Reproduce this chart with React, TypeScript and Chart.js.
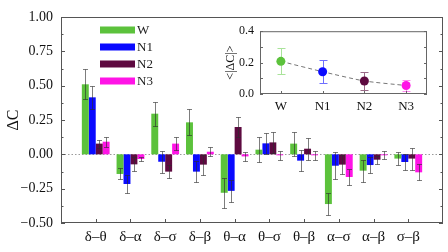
import React, { useEffect, useRef } from 'react';
import { Chart, registerables } from 'chart.js';
Chart.register(...registerables);

const pairs = ['δ–θ', 'δ–α', 'δ–σ', 'δ–β', 'θ–α', 'θ–σ', 'θ–β', 'α–σ', 'α–β', 'σ–β'];
const groups = ['W', 'N1', 'N2', 'N3'];
const colors = ['#5cc23c', '#0a0aff', '#5e0a40', '#ff14e6'];
const insetErrColors = ['#a9e39a', '#6f6fff', '#9a6a88', '#ff88f0'];
const wVals = [0.51, -0.143, 0.296, 0.233, -0.28, 0.034, 0.078, -0.362, -0.119, -0.031];
const wErr = [0.11, 0.04, 0.088, 0.095, 0.11, 0.09, 0.088, 0.08, 0.08, 0.05];
const n1Vals = [0.415, -0.216, -0.054, -0.126, -0.266, 0.08, -0.046, -0.083, -0.078, -0.056];
const n1Err = [0.085, 0.062, 0.08, 0.075, 0.08, 0.075, 0.075, 0.1, 0.055, 0.06];
const n2Vals = [0.078, -0.073, -0.126, -0.075, 0.199, 0.087, 0.041, -0.075, -0.039, -0.031];
const n2Err = [0.03, 0.05, 0.045, 0.073, 0.073, 0.075, 0.08, 0.07, 0.028, 0.08];
const n3Vals = [0.092, -0.034, 0.078, 0.019, -0.015, -0.007, -0.007, -0.165, -0.007, -0.131];
const n3Err = [0.035, 0.018, 0.045, 0.034, 0.035, 0.033, 0.033, 0.055, 0.028, 0.058];
const meanVals = [0.208, 0.142, 0.083, 0.054];
const meanErr = [0.082, 0.072, 0.058, 0.038];

const FONT = 'Liberation Serif';

const fmtMain = (v: number) => {
  const s = Math.abs(v).toFixed(2);
  return v < -1e-9 ? '−' + s : s;
};

const mainDecor = {
  id: 'mainDecor',
  beforeDatasetsDraw(chart: any) {
    const { ctx, chartArea: a, scales } = chart;
    const y0 = Math.round(scales.y.getPixelForValue(0)) + 0.5;
    ctx.save();
    ctx.strokeStyle = '#9a9a9a';
    ctx.lineWidth = 1;
    ctx.setLineDash([1.5, 2]);
    ctx.beginPath();
    ctx.moveTo(a.left, y0);
    ctx.lineTo(a.right, y0);
    ctx.stroke();
    ctx.restore();
  },
  afterDatasetsDraw(chart: any) {
    const { ctx, chartArea: a, scales } = chart;
    const y = scales.y;
    const x = scales.x;
    ctx.save();
    ctx.strokeStyle = 'rgba(45,45,45,0.62)';
    ctx.lineWidth = 1;
    chart.data.datasets.forEach((ds: any, i: number) => {
      const meta = chart.getDatasetMeta(i);
      meta.data.forEach((bar: any, j: number) => {
        const v = ds.data[j];
        const e = ds.err[j];
        if (v == null || e == null) return;
        const px = Math.round(bar.x) + 0.5;
        const yt = Math.round(y.getPixelForValue(v + e)) + 0.5;
        const yb = Math.round(y.getPixelForValue(v - e)) + 0.5;
        ctx.beginPath();
        ctx.moveTo(px, yt);
        ctx.lineTo(px, yb);
        ctx.moveTo(px - 2.5, yt);
        ctx.lineTo(px + 2.5, yt);
        ctx.moveTo(px - 2.5, yb);
        ctx.lineTo(px + 2.5, yb);
        ctx.stroke();
      });
    });
    ctx.strokeStyle = '#555';
    ctx.lineWidth = 1;
    ctx.strokeRect(a.left + 0.5, a.top + 0.5, a.right - a.left - 1, a.bottom - a.top - 1);
    ctx.beginPath();
    for (let v = -0.5; v <= 1.0001; v += 0.125) {
      const major = Math.abs(Math.round(v / 0.25) * 0.25 - v) < 1e-6;
      const len = major ? 4 : 2.5;
      const py = Math.round(y.getPixelForValue(v)) + 0.5;
      ctx.moveTo(a.left, py);
      ctx.lineTo(a.left + len, py);
      ctx.moveTo(a.right, py);
      ctx.lineTo(a.right - len, py);
    }
    for (let k = 1; k <= pairs.length; k++) {
      const px = Math.round(x.getPixelForValue(k)) + 0.5;
      ctx.moveTo(px, a.bottom);
      ctx.lineTo(px, a.bottom - 4);
    }
    ctx.stroke();
    ctx.font = `13px ${FONT}`;
    ctx.textBaseline = 'middle';
    ctx.textAlign = 'left';
    chart.data.datasets.forEach((ds: any, i: number) => {
      const cy = 30 + i * 17;
      ctx.fillStyle = ds.backgroundColor;
      ctx.fillRect(100, cy - 3.5, 35, 7);
      ctx.fillStyle = '#222';
      ctx.fillText(ds.label, 137, cy + 0.5);
    });
    ctx.restore();
  },
};

const insetDecor = {
  id: 'insetDecor',
  beforeDatasetsDraw(chart: any) {
    const { ctx, scales } = chart;
    const y = scales.y;
    const ds = chart.data.datasets[0];
    const meta = chart.getDatasetMeta(0);
    ctx.save();
    ctx.lineWidth = 1;
    meta.data.forEach((pt: any, j: number) => {
      const v = ds.data[j];
      const e = ds.err[j];
      const px = Math.round(pt.x) + 0.5;
      const yt = Math.round(y.getPixelForValue(v + e)) + 0.5;
      const yb = Math.round(y.getPixelForValue(v - e)) + 0.5;
      ctx.strokeStyle = ds.errColors[j];
      ctx.beginPath();
      ctx.moveTo(px, yt);
      ctx.lineTo(px, yb);
      ctx.moveTo(px - 4, yt);
      ctx.lineTo(px + 4, yt);
      ctx.moveTo(px - 4, yb);
      ctx.lineTo(px + 4, yb);
      ctx.stroke();
    });
    ctx.restore();
  },
  afterDraw(chart: any) {
    const { ctx, chartArea: a, scales } = chart;
    const y = scales.y;
    const x = scales.x;
    ctx.save();
    ctx.strokeStyle = '#666';
    ctx.lineWidth = 1;
    ctx.strokeRect(a.left + 0.5, a.top + 0.5, a.right - a.left - 1, a.bottom - a.top - 1);
    ctx.beginPath();
    for (let v = 0; v <= 0.4001; v += 0.1) {
      const py = Math.round(y.getPixelForValue(v)) + 0.5;
      ctx.moveTo(a.left, py);
      ctx.lineTo(a.left + 3, py);
      ctx.moveTo(a.right, py);
      ctx.lineTo(a.right - 3, py);
    }
    for (let k = 0; k < groups.length; k++) {
      const px = Math.round(x.getPixelForValue(k)) + 0.5;
      ctx.moveTo(px, a.bottom);
      ctx.lineTo(px, a.bottom - 3);
    }
    ctx.stroke();
    ctx.restore();
  },
};

export default function App() {
  const mainRef = useRef<HTMLCanvasElement>(null);
  const insetRef = useRef<HTMLCanvasElement>(null);

  useEffect(() => {
    const labels = ['', ...pairs, ''];
    const pad = (arr: number[]) => [null, ...arr, null];
    const vals = [wVals, n1Vals, n2Vals, n3Vals];
    const errs = [wErr, n1Err, n2Err, n3Err];
    const main = new Chart(mainRef.current as HTMLCanvasElement, {
      type: 'bar',
      data: {
        labels,
        datasets: groups.map((g, i) => ({
          label: g,
          data: pad(vals[i]) as any,
          err: pad(errs[i]),
          backgroundColor: colors[i],
          borderWidth: 0,
          categoryPercentage: 0.8,
          barPercentage: 1.0,
        })) as any,
      },
      options: {
        responsive: false,
        animation: false,
        devicePixelRatio: 1,
        font: { family: FONT },
        layout: { padding: { left: 0, top: 17, right: 2, bottom: 0 } },
        plugins: { legend: { display: false }, tooltip: { enabled: false } },
        scales: {
          x: {
            type: 'category',
            offset: false,
            grid: { display: false, drawTicks: false },
            border: { display: false },
            ticks: {
              autoSkip: false,
              maxRotation: 0,
              padding: 5,
              color: '#111',
              font: { family: FONT, size: 15 },
            },
            afterFit: (s: any) => { s.height = 29; },
          },
          y: {
            min: -0.5,
            max: 1.0,
            grid: { display: false, drawTicks: false },
            border: { display: false },
            ticks: {
              stepSize: 0.25,
              padding: 8,
              color: '#111',
              font: { family: FONT, size: 14 },
              callback: (v: any) => fmtMain(Number(v)),
            },
            title: {
              display: true,
              text: 'ΔC',
              color: '#111',
              font: { family: FONT, size: 16 },
              padding: { top: 4, bottom: 0 },
            },
            afterFit: (s: any) => { s.width = 61; },
          },
        },
      } as any,
      plugins: [mainDecor],
    });

    const inset = new Chart(insetRef.current as HTMLCanvasElement, {
      type: 'line',
      data: {
        labels: groups,
        datasets: [
          {
            label: 'mean',
            data: meanVals,
            err: meanErr,
            errColors: insetErrColors,
            borderColor: '#777',
            borderWidth: 1,
            borderDash: [4, 3],
            pointRadius: 4.5,
            pointBackgroundColor: colors,
            pointBorderColor: colors,
            pointBorderWidth: 0,
            tension: 0.2,
          } as any,
        ],
      },
      options: {
        responsive: false,
        animation: false,
        devicePixelRatio: 1,
        font: { family: FONT },
        layout: { padding: { left: 0, top: 7, right: 9, bottom: 0 } },
        plugins: { legend: { display: false }, tooltip: { enabled: false } },
        scales: {
          x: {
            type: 'category',
            offset: true,
            grid: { display: false, drawTicks: false },
            border: { display: false },
            ticks: { padding: 5, color: '#111', font: { family: FONT, size: 13 } },
            afterFit: (s: any) => { s.height = 24; },
          },
          y: {
            min: 0,
            max: 0.4,
            grid: { display: false, drawTicks: false },
            border: { display: false },
            ticks: {
              stepSize: 0.1,
              padding: 6,
              color: '#111',
              font: { family: FONT, size: 12 },
              callback: (v: any) => Number(v).toFixed(1),
            },
            title: {
              display: true,
              text: '<|ΔC|>',
              color: '#111',
              font: { family: FONT, size: 12 },
              padding: { top: 0, bottom: 0 },
            },
            afterFit: (s: any) => { s.width = 36; },
          },
        },
      } as any,
      plugins: [insetDecor],
    });

    return () => {
      main.destroy();
      inset.destroy();
    };
  }, []);

  return (
    <div style={{ position: 'fixed', left: 0, top: 0, width: 448, height: 252, background: '#fff' }}>
      <canvas ref={mainRef} width={448} height={252} style={{ position: 'absolute', left: 0, top: 0 }} />
      <canvas ref={insetRef} width={212} height={100} style={{ position: 'absolute', left: 224, top: 18 }} />
    </div>
  );
}
